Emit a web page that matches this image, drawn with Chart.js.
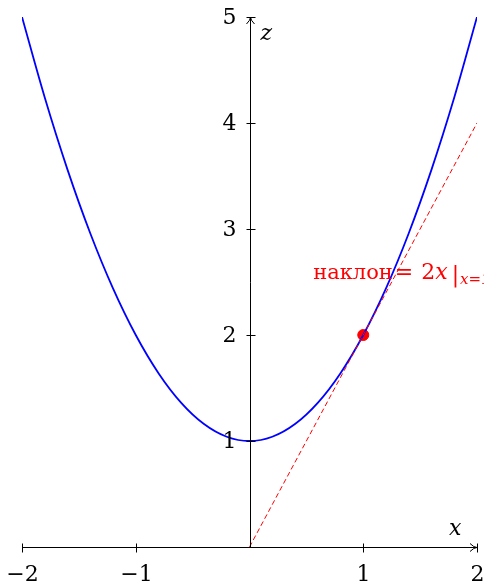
<!DOCTYPE html>
<html>
<head>
<meta charset="utf-8">
<script src="https://cdn.jsdelivr.net/npm/chart.js@4.4.0/dist/chart.umd.min.js"></script>
<style>
  html, body { margin: 0; padding: 0; background: #fff; }
  #wrap { width: 484px; height: 587px; }
</style>
</head>
<body>
<div id="wrap"><canvas id="plot" width="484" height="587"></canvas></div>
<script>
// parabola z = x^2 + 1, sampled
var curveX = [-2, -1.8, -1.6, -1.4, -1.2, -1, -0.8, -0.6, -0.4, -0.2, 0,
              0.2, 0.4, 0.6, 0.8, 1, 1.2, 1.4, 1.6, 1.8, 2];
var curveZ = [5, 4.24, 3.56, 2.96, 2.44, 2, 1.64, 1.36, 1.16, 1.04, 1,
              1.04, 1.16, 1.36, 1.64, 2, 2.44, 2.96, 3.56, 4.24, 5];
// tangent at x = 1
var tangentX = [0, 2];
var tangentZ = [0, 4];
var pointX = [1];
var pointZ = [2];
var xTicks = [-2, -1, 1, 2];
var xTickLabels = ["\u22122", "\u22121", "1", "2"];
var zTicks = [1, 2, 3, 4, 5];
var zTickLabels = ["1", "2", "3", "4", "5"];
var slopeWord = "наклон";

var serif = '"DejaVu Serif", serif';

function pairs(xs, ys) {
  return xs.map(function (x, i) { return {x: x, y: ys[i]}; });
}

// draws the axes, ticks, arrows and texts on top of the plot
var axesPlugin = {
  id: 'axes',
  afterDatasetsDraw: function (chart) {
    var ctx = chart.ctx;
    var xs = chart.scales.x, ys = chart.scales.y;
    var x0 = Math.round(xs.getPixelForValue(0)) + 0.5;
    var y0 = Math.round(ys.getPixelForValue(0)) + 0.5;
    var left = xs.getPixelForValue(-2), right = xs.getPixelForValue(2);
    var top = ys.getPixelForValue(5);
    ctx.save();
    ctx.strokeStyle = '#000';
    ctx.fillStyle = '#000';
    ctx.lineWidth = 1;

    ctx.beginPath();
    ctx.moveTo(left, y0);
    ctx.lineTo(right, y0);
    ctx.moveTo(x0, y0);
    ctx.lineTo(x0, top);
    ctx.stroke();

    // arrow heads
    ctx.beginPath();
    ctx.moveTo(right - 7, y0 - 4);
    ctx.quadraticCurveTo(right - 3, y0, right, y0);
    ctx.quadraticCurveTo(right - 3, y0, right - 7, y0 + 4);
    ctx.moveTo(x0 - 4, top + 7);
    ctx.quadraticCurveTo(x0, top + 3, x0, top);
    ctx.quadraticCurveTo(x0, top + 3, x0 + 4, top + 7);
    ctx.stroke();

    ctx.font = '22px ' + serif;
    ctx.textAlign = 'center';
    ctx.textBaseline = 'middle';
    xTicks.forEach(function (v, i) {
      var px = Math.round(xs.getPixelForValue(v)) + 0.5;
      ctx.beginPath();
      ctx.moveTo(px, y0 - 4);
      ctx.lineTo(px, y0 + 5);
      ctx.stroke();
      ctx.fillText(xTickLabels[i], px, y0 + 28);
    });
    ctx.textAlign = 'right';
    zTicks.forEach(function (v, i) {
      var py = Math.round(ys.getPixelForValue(v)) + 0.5;
      ctx.beginPath();
      ctx.moveTo(x0 - 4, py);
      ctx.lineTo(x0 + 5, py);
      ctx.stroke();
      ctx.fillText(zTickLabels[i], x0 - 14, py + 1);
    });

    // axis names
    ctx.font = 'italic 22px ' + serif;
    ctx.textAlign = 'left';
    ctx.fillText('z', x0 + 10, top + 17);
    ctx.fillText('x', right - 28, y0 - 18);

    // slope annotation, laid out piece by piece
    var lx = xs.getPixelForValue(0.56), ly = ys.getPixelForValue(2.53);
    ctx.fillStyle = '#ff0000';
    ctx.textBaseline = 'alphabetic';
    ctx.font = '21px ' + serif;
    ctx.fillText(slopeWord, lx, ly);
    lx += ctx.measureText(slopeWord).width + 2;
    ctx.font = '22px ' + serif;
    ctx.fillText('=', lx, ly);
    lx += ctx.measureText('=').width + 8;
    ctx.fillText('2', lx, ly);
    lx += ctx.measureText('2').width;
    ctx.font = 'italic 22px ' + serif;
    ctx.fillText('x', lx, ly);
    lx += ctx.measureText('x').width + 4;
    ctx.font = '22px ' + serif;
    ctx.fillText('|', lx, ly + 3);
    lx += ctx.measureText('|').width + 1;
    ctx.font = 'italic 15px ' + serif;
    ctx.fillText('x=1', lx, ly + 5);
    ctx.restore();
  }
};

function draw() {
  new Chart(document.getElementById('plot'), {
    type: 'scatter',
    data: {
      datasets: [
        {
          data: pairs(tangentX, tangentZ),
          showLine: true,
          borderColor: '#ff0000',
          borderWidth: 1,
          borderDash: [5, 3],
          pointRadius: 0
        },
        {
          data: pairs(curveX, curveZ),
          showLine: true,
          borderColor: '#0000ff',
          borderWidth: 1.8,
          tension: 0.35,
          pointRadius: 0
        },
        {
          data: pairs(pointX, pointZ),
          pointRadius: 5.5,
          pointBackgroundColor: '#ff0000',
          pointBorderColor: '#ff0000'
        }
      ]
    },
    options: {
      responsive: false,
      animation: false,
      layout: { padding: { left: 22, right: 7, top: 17, bottom: 40 } },
      plugins: { legend: { display: false }, tooltip: { enabled: false } },
      scales: {
        x: { type: 'linear', min: -2, max: 2, display: false },
        y: { type: 'linear', min: 0, max: 5, display: false }
      }
    },
    plugins: [axesPlugin]
  });
}

draw();
</script>
</body>
</html>
